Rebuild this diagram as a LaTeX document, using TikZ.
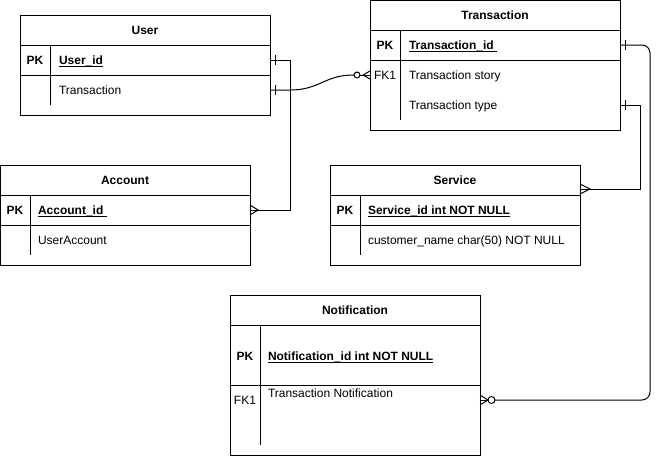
\documentclass[tikz,border=0pt]{standalone}
\usepackage{fontspec}
\setmainfont{Liberation Sans}
\newsavebox\undlbox
\newcommand\undl[1]{\sbox\undlbox{#1}\rlap{\rule[-2pt]{\wd\undlbox}{0.8pt}}\usebox\undlbox}
\begin{document}
\begin{tikzpicture}[x=1pt,y=-1pt, line width=1pt,
 every node/.style={font=\fontsize{12}{14}\selectfont, inner sep=0pt, outer sep=0pt, text height=8.6pt, text depth=0pt},
 tbl/.style={draw, anchor=north west, minimum width=250pt},
 row/.style={anchor=north west, minimum width=250pt, minimum height=30pt},
 ttl/.style={font=\fontsize{12}{14}\selectfont\bfseries},
 pk/.style={font=\fontsize{12}{14}\selectfont\bfseries},
 fld/.style={anchor=west},
 key/.style={font=\fontsize{12}{14}\selectfont\bfseries, anchor=west},
 tick/.style={line width=1pt}]
\useasboundingbox (0,0) rectangle (661,456);

% ---------- User ----------
\node[tbl, minimum height=100pt] (user) at (20,15) {};
\node[ttl] (userT) at (145,30) {User};
\draw (20,45) -- (270,45) (20,75) -- (270,75) (50,45) -- (50,105);
\node[row] (userPK) at (20,45) {};
\node[row] (userTr) at (20,75) {};
\node[pk] (userPKl) at (35,60) {PK};
\node[key] (userId) at (59,60) {\undl{User\_id}};
\node[fld] (userTrl) at (59,90) {Transaction};

% ---------- Transaction ----------
\node[tbl, minimum height=130pt] (tr) at (370,0) {};
\node[ttl] (trT) at (495,15) {Transaction};
\draw (370,30) -- (620,30) (370,60) -- (620,60) (400,30) -- (400,120);
\node[row] (trPK) at (370,30) {};
\node[row] (trStory) at (370,60) {};
\node[row] (trType) at (370,90) {};
\node[pk] (trPKl) at (385,45) {PK};
\node[key] (trId) at (409,45) {\undl{Transaction\_id\ }};
\node (trFK) at (385,75) {FK1};
\node[fld] (trSt) at (409,75) {Transaction story};
\node[fld] (trTy) at (409,105) {Transaction type};

% ---------- Account ----------
\node[tbl, minimum height=100pt] (acc) at (0,165) {};
\node[ttl] (accT) at (125,180) {Account};
\draw (0,195) -- (250,195) (0,225) -- (250,225) (30,195) -- (30,255);
\node[row] (accPK) at (0,195) {};
\node[pk] (accPKl) at (15,210) {PK};
\node[key] (accId) at (38,210) {\undl{Account\_id\ }};
\node[fld] (accUA) at (38,240) {UserAccount};

% ---------- Service ----------
\node[tbl, minimum height=100pt] (svc) at (330,165) {};
\node[ttl] (svcT) at (455,180) {Service};
\draw (330,195) -- (580,195) (330,225) -- (580,225) (360,195) -- (360,255);
\node[row] (svcH) at (330,165) {};
\node[pk] (svcPKl) at (345,210) {PK};
\node[key] (svcId) at (368,210) {\undl{Service\_id int NOT NULL}};
\node[fld] (svcCN) at (368,240) {customer\_name char(50) NOT NULL};

% ---------- Notification ----------
\node[tbl, minimum height=160pt] (nt) at (230,295) {};
\node[ttl] (ntT) at (355,310) {Notification};
\draw (230,325) -- (480,325) (230,385) -- (480,385) (260,325) -- (260,445);
\node[pk] (ntPKl) at (245,356) {PK};
\node[key] (ntId) at (268,356) {\undl{Notification\_id int NOT NULL}};
\node (ntFK) at (245,400) {FK1};
\node[fld] (ntTN) at (268,393) {Transaction Notification};

\coordinate (svcIn) at (580,189);
\coordinate (notIn) at (480,400);

% ---------- Connectors ----------
% User_id -> Account_id
\draw (userPK.east) -- ++(20,0) |- (accPK.east);
\draw[tick] ([xshift=5pt]userPK.east) ++(0,-5) -- ++(0,10);
\draw ([shift={(0,-5)}]accPK.east) -- ([xshift=8pt]accPK.east) -- ([shift={(0,5)}]accPK.east);

% User.Transaction -> Transaction story
\draw (userTr.east) -- ++(20,0) .. controls +(30,0) and +(-30,0) .. ([xshift=-16pt]trStory.west);
\draw[tick] ([xshift=5pt]userTr.east) ++(0,-5) -- ++(0,10);
\draw ([xshift=-13pt]trStory.west) circle[radius=3pt];
\draw ([xshift=-10pt]trStory.west) -- (trStory.west);
\draw ([shift={(0,-4)}]trStory.west) -- ([xshift=-7pt]trStory.west) -- ([shift={(0,4)}]trStory.west);

% Transaction_id -> Notification
\draw[rounded corners=8pt] (trPK.east) -- ++(30,0) |- ([xshift=15pt]notIn);
\draw[tick] ([xshift=5pt]trPK.east) ++(0,-5) -- ++(0,10);
\draw ([xshift=11.5pt]notIn) circle[radius=3.5pt];
\draw (notIn) -- ([xshift=8pt]notIn);
\draw ([shift={(0,-5)}]notIn) -- ([xshift=8pt]notIn) -- ([shift={(0,5)}]notIn);

% Transaction type -> Service
\draw (trType.east) -- ++(20,0) |- (svcIn);
\draw[tick] ([xshift=5pt]trType.east) ++(0,-5) -- ++(0,10);
\draw ([shift={(0,-5)}]svcIn) -- ([xshift=10pt]svcIn) -- ([shift={(0,5)}]svcIn);
\end{tikzpicture}
\end{document}
